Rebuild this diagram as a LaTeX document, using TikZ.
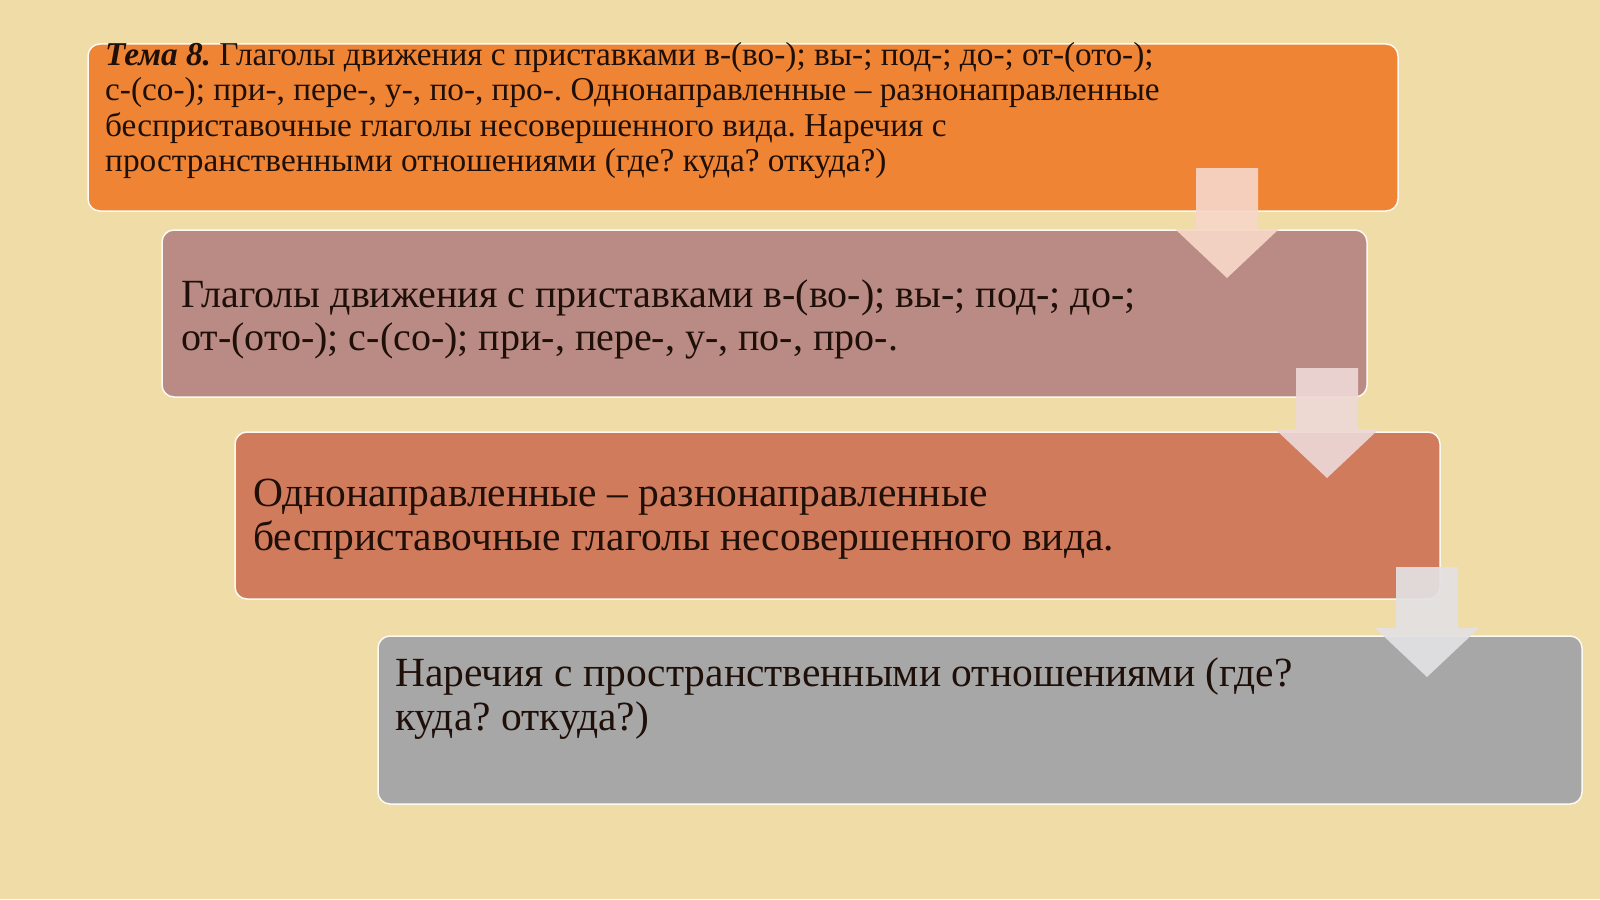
\documentclass[tikz,border=0pt]{standalone}
\usepackage{fontspec}
\setmainfont{Liberation Serif}
\usetikzlibrary{positioning,shapes.arrows}
\definecolor{parchment}{HTML}{EFDCA6}
\definecolor{boxA}{HTML}{EE8434}
\definecolor{boxB}{HTML}{B98B84}
\definecolor{boxC}{HTML}{D17B5D}
\definecolor{boxD}{HTML}{A8A7A8}
\definecolor{arrowA}{HTML}{F7D6C8}
\definecolor{arrowB}{HTML}{EDD8D6}
\definecolor{arrowC}{HTML}{E2E1E3}
\definecolor{inkdark}{HTML}{1E0F08}
\tikzset{stepbox/.style={rectangle,rounded corners=12pt,draw=white!85!parchment,line width=1.5pt,inner sep=0pt},
         steptext/.style={anchor=base west,align=left,inner sep=0pt,text=inkdark},
         pics/steparrow/.style={code={\fill (-31,0) -- (31,0) -- (31,61) -- (52,61) -- (0,110) -- (-52,61) -- (-31,61) -- cycle;}}}
\frenchspacing

\begin{document}
\begin{tikzpicture}[x=1pt,y=-1pt]
\useasboundingbox (0,0) rectangle (1600,899);
\fill[parchment] (0,0) rectangle (1600,899);

\node[stepbox,fill=boxA,minimum width=1310pt,minimum height=167pt] (B1) at (743,127.5) {};
\node[stepbox,fill=boxB,minimum width=1205pt,minimum height=167pt] (B2) at (764.5,313.5) {};
\node[stepbox,fill=boxC,minimum width=1205pt,minimum height=167pt] (B3) at (837.5,515.5) {};
\node[stepbox,fill=boxD,minimum width=1204pt,minimum height=168pt] (B4) at (980,720) {};

% anchor base = last line
\node[steptext,font=\fontsize{33.3}{35.5}\selectfont] (T1) at (105,171.5)
  {\textbf{\textit{Тема 8.}} Глаголы движения с приставками в-(во-); вы-; под-; до-; от-(ото-);\\
   с-(со-); при-, пере-, у-, по-, про-. Однонаправленные – разнонаправленные\\
   бесприставочные глаголы несовершенного вида. Наречия с\\
   пространственными отношениями (где? куда? откуда?)};
\node[steptext,font=\fontsize{40}{43}\selectfont] (T2) at (181,350)
  {Глаголы движения с приставками в-(во-); вы-; под-; до-;\\
   от-(ото-); с-(со-); при-, пере-, у-, по-, про-.};
\node[steptext,font=\fontsize{41.5}{44}\selectfont] (T3) at (253,550)
  {Однонаправленные – разнонаправленные\\
   бесприставочные глаголы несовершенного вида.};
\node[steptext,font=\fontsize{41.5}{44}\selectfont] (T4) at (395,730)
  {Наречия с пространственными отношениями (где?\\
   куда? откуда?)};

\pic[fill=arrowA,fill opacity=.92] (A1) at (1227,168) {steparrow};
\pic[fill=arrowB,fill opacity=.92] (A2) at (1327,368) {steparrow};
\pic[fill=arrowC,fill opacity=.92] (A3) at (1427,567) {steparrow};

\end{tikzpicture}
\end{document}
